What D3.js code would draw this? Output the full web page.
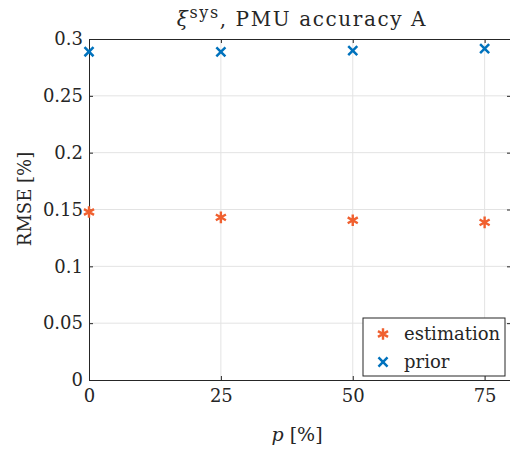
<!DOCTYPE html>
<html lang="en">
<head>
<meta charset="UTF-8" />
<script src="https://cdn.jsdelivr.net/npm/d3@7"></script>
<style>
  body { margin: 0; background: #fff; }
  text { font-family: "DejaVu Serif", serif; fill: #262626; }
</style>
</head>
<body>
<div id="chart"></div>
<script>
// data
const pValues = [0, 25, 50, 75];
const estimation = [0.1478, 0.1431, 0.1405, 0.1387];
const prior = [0.2888, 0.2886, 0.2897, 0.2915];
const xTicks = [0, 25, 50, 75];
const yTicks = [0, 0.05, 0.1, 0.15, 0.2, 0.25, 0.3];
const seriesNames = ["estimation", "prior"];

const W = 510, H = 450;
const margin = { top: 39, right: -1, bottom: 70, left: 89 };
const width = W - margin.left - margin.right,
      height = H - margin.top - margin.bottom;

const svg = d3.select("#chart").append("svg")
  .attr("width", W).attr("height", H);

const g = svg.append("g")
  .attr("transform", `translate(${margin.left},${margin.top})`);

const x = d3.scaleLinear().domain([0, 80]).range([0, width]);
const y = d3.scaleLinear().domain([0, 0.3]).range([height, 0]);

// grid
g.append("g").selectAll("line").data(xTicks.slice(1)).join("line")
  .attr("x1", d => x(d)).attr("x2", d => x(d))
  .attr("y1", 0).attr("y2", height)
  .attr("stroke", "#e3e3e3").attr("stroke-width", 1);
g.append("g").selectAll("line").data(yTicks.slice(1, -1)).join("line")
  .attr("x1", 0).attr("x2", width)
  .attr("y1", d => y(d)).attr("y2", d => y(d))
  .attr("stroke", "#e3e3e3").attr("stroke-width", 1);

// axes (ticks inside, like matlab)
const fmt = d => String(+d.toFixed(2));
const xAxis = g.append("g")
  .attr("transform", `translate(0,${height})`)
  .call(d3.axisBottom(x).tickValues(xTicks).tickSizeInner(-4).tickSizeOuter(0).tickPadding(9));
const yAxis = g.append("g")
  .call(d3.axisLeft(y).tickValues(yTicks).tickFormat(fmt).tickSizeInner(-4).tickSizeOuter(0).tickPadding(6));
g.append("g")
  .attr("transform", `translate(${width},0)`)
  .call(d3.axisRight(y).tickValues(yTicks).tickFormat("").tickSizeInner(-4).tickSizeOuter(0));
g.append("g")
  .call(d3.axisTop(x).tickValues(xTicks).tickFormat("").tickSizeInner(-4).tickSizeOuter(0));

g.selectAll(".domain").attr("stroke", "#262626");
g.selectAll(".tick line").attr("stroke", "#262626");
[xAxis, yAxis].forEach(a => a
  .attr("font-family", "DejaVu Serif")
  .selectAll("text").attr("font-size", 18).attr("fill", "#262626"));

// markers
const orange = "#f0602f", blue = "#0072bd";
const star = d3.symbol().type(d3.symbolAsterisk).size(95);
const cross = d3.symbol().type(d3.symbolTimes).size(55);

g.append("g").selectAll("path").data(pValues).join("path")
  .attr("transform", (d, i) => `translate(${x(d)},${y(estimation[i])})`)
  .attr("d", star).attr("fill", "none")
  .attr("stroke", orange).attr("stroke-width", 2.4);

g.append("g").selectAll("path").data(pValues).join("path")
  .attr("transform", (d, i) => `translate(${x(d)},${y(prior[i])})`)
  .attr("d", cross).attr("fill", "none")
  .attr("stroke", blue).attr("stroke-width", 2.5);

// title
const title = svg.append("text")
  .attr("x", 302).attr("y", 26)
  .attr("text-anchor", "middle").attr("font-size", 20)
  .attr("letter-spacing", 1.6);
title.append("tspan").attr("font-style", "italic").text("ξ");
title.append("tspan").attr("dy", -8).attr("font-size", 16).text("sys");
title.append("tspan").attr("dy", 8).text(", PMU accuracy A");

// axis labels
const xl = svg.append("text")
  .attr("x", 297).attr("y", 441)
  .attr("text-anchor", "middle").attr("font-size", 19);
xl.append("tspan").attr("font-style", "italic").text("p");
xl.append("tspan").text(" [%]");

svg.append("text")
  .attr("transform", "translate(31,199) rotate(-90)")
  .attr("text-anchor", "middle").attr("font-size", 18)
  .text("RMSE [%]");

// legend
const lg = svg.append("g").attr("transform", "translate(363,318)");
lg.append("rect").attr("width", 142).attr("height", 58)
  .attr("fill", "#fff").attr("stroke", "#262626").attr("stroke-width", 1);
const item = lg.selectAll("g.item").data(seriesNames).join("g")
  .attr("class", "item")
  .attr("transform", (d, i) => `translate(0,${16 + i * 28})`);
item.append("path")
  .attr("transform", "translate(20,0)")
  .attr("d", (d, i) => i === 0 ? star() : cross())
  .attr("fill", "none")
  .attr("stroke", (d, i) => i === 0 ? orange : blue)
  .attr("stroke-width", (d, i) => i === 0 ? 2.4 : 2.5);
item.append("text")
  .attr("x", 41).attr("y", 6)
  .attr("font-size", 18)
  .text(d => d);
</script>
</body>
</html>
